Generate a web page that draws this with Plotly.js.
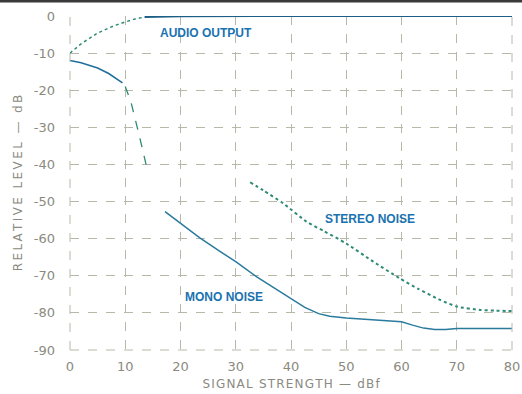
<!DOCTYPE html>
<html><head><meta charset="utf-8">
<script src="https://cdn.plot.ly/plotly-3.0.1.min.js"></script>
<style>html,body{margin:0;padding:0;background:#fff}#c{width:522px;height:394px}</style>
</head><body><div id="c"></div>
<script>
// Audio output: dotted rise then flat
const audioRiseX = [0, 2, 5, 8, 10, 12, 13.5];
const audioRiseY = [-10, -7.5, -4.6, -2.6, -1.6, -0.7, -0.3];
const audioFlatX = [13.5, 20, 40, 60, 80];
const audioFlatY = [-0.3, -0.1, 0, 0, 0];
// Mono noise (three pieces)
const monoAX = [0, 2, 5, 7, 9.5];
const monoAY = [-12, -12.6, -14, -15.5, -18];
const monoBX = [10, 11, 12.5, 14];
const monoBY = [-19, -23, -32, -41.5];
const monoCX = [17.2, 20, 23.5, 27, 30, 33.8, 37, 40, 42.5, 45, 47, 50, 55, 60, 62, 64, 66, 68, 70, 80];
const monoCY = [-52.7, -55.8, -59.8, -63.3, -66.2, -70.3, -73.3, -76.2, -78.5, -80.2, -80.9, -81.4, -81.9, -82.4, -83.3, -84.1, -84.5, -84.5, -84.2, -84.2];
// Stereo noise
const stereoX = [32.6, 35, 38.6, 42.8, 46, 50, 54.9, 59.7, 63, 67, 70, 74.2, 77, 80];
const stereoY = [-44.8, -47, -50.5, -55.4, -58, -61.3, -66.2, -70.7, -73.5, -76.5, -78.3, -79.2, -79.4, -79.5];
// Tick labels
const xTicks = [0, 10, 20, 30, 40, 50, 60, 70, 80];
const yTicks = [0, -10, -20, -30, -40, -50, -60, -70, -80, -90];
const yTickText = ['0', '-10', '-20', '-30', '-40', '-50', '-60', '-70', '-80', '-90'];
const labels = [
  {text: 'AUDIO OUTPUT', x: 24.6, y: -4.6},
  {text: 'STEREO NOISE', x: 54.3, y: -54.6},
  {text: 'MONO NOISE', x: 27.8, y: -75.7}
];
const xTitle = 'SIGNAL STRENGTH — dBf';
const yTitle = 'RELATIVE LEVEL — dB';

const spaced = s => s.split('').join('\u200A');
const blue = '#1f6e9c';
const green = '#2f8a74';
const traces = [
  {x: audioRiseX, y: audioRiseY, mode: 'lines', line: {color: green, width: 1.5, dash: 'dot'}},
  {x: audioFlatX, y: audioFlatY, mode: 'lines', line: {color: '#1c5f86', width: 2}},
  {x: monoAX, y: monoAY, mode: 'lines', line: {color: blue, width: 1.5}},
  {x: monoBX, y: monoBY, mode: 'lines', line: {color: green, width: 1.3, dash: 'dash'}},
  {x: monoCX, y: monoCY, mode: 'lines', line: {color: '#2a7a9e', width: 1.5}},
  {x: stereoX, y: stereoY, mode: 'lines', line: {color: green, width: 2, dash: 'dot', shape: 'spline', smoothing: 0.6}}
];
const gridStyle = {showgrid: true, gridcolor: '#b8b8a8', griddash: 'dash', gridwidth: 1, zeroline: false, showline: false};
const layout = {
  width: 522, height: 394,
  margin: {l: 70, r: 10, t: 16, b: 44},
  paper_bgcolor: '#fff', plot_bgcolor: '#fff',
  showlegend: false,
  font: {family: 'DejaVu Sans', color: '#888'},
  xaxis: Object.assign({range: [0, 80], tickvals: xTicks, ticks: '', ticklabelstandoff: 7,
    tickfont: {size: 13, color: '#8a8a80'},
    title: {text: spaced(xTitle), font: {size: 12, color: '#8a8a80'}, standoff: 6}}, gridStyle),
  yaxis: Object.assign({range: [-90, 0], tickvals: yTicks, ticktext: yTickText, ticks: '', ticklabelstandoff: 14,
    tickfont: {size: 13, color: '#8a8a80'},
    title: {text: spaced(yTitle).replace(/\u200A/g, '\u2009'), font: {size: 12, color: '#8a8a80'}, standoff: 8}}, gridStyle),
  annotations: labels.map(l => ({x: l.x, y: l.y, text: '<b>' + l.text + '</b>', showarrow: false,
    font: {family: 'Liberation Sans', size: 12, color: '#1a72b0'}})),
  shapes: [
    {type: 'line', xref: 'paper', yref: 'paper', x0: 0, x1: 1, y0: 0, y1: 0, line: {color: '#b8b8a8', width: 1, dash: 'dash'}},
    {type: 'line', xref: 'paper', yref: 'paper', x0: 0, x1: 0, y0: 0, y1: 1, line: {color: '#b8b8a8', width: 1, dash: 'dash'}},
    {type: 'line', xref: 'paper', yref: 'paper', x0: 1, x1: 1, y0: 0, y1: 1, line: {color: '#b8b8a8', width: 1, dash: 'dash'}},
    {type: 'rect', xref: 'paper', yref: 'paper', x0: -70/442, x1: 452/442, y0: 1 + 13.5/334, y1: 1 + 16/334,
      line: {width: 0}, fillcolor: '#3a3a3a', layer: 'above'}
  ]
};
Plotly.newPlot('c', traces, layout, {displayModeBar: false, staticPlot: true});
</script></body></html>
